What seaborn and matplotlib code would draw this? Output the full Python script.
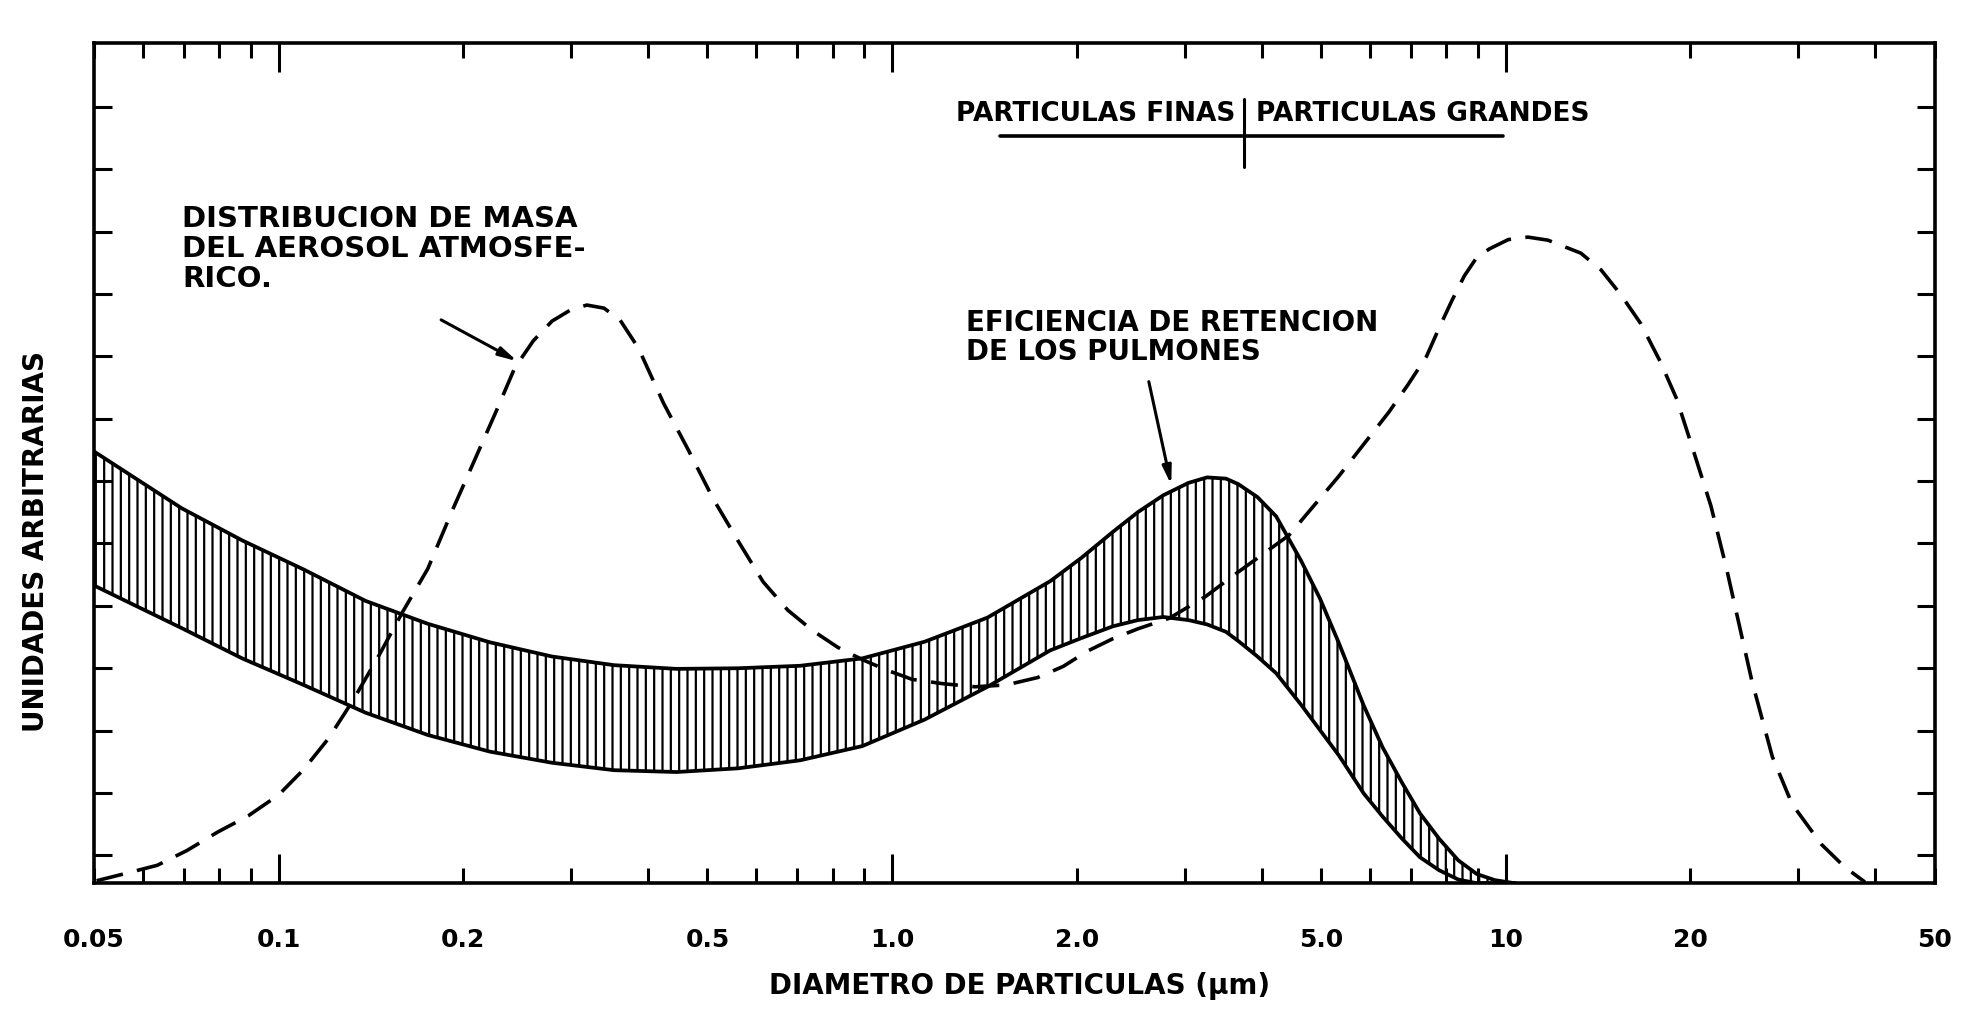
import numpy as np
import matplotlib
matplotlib.use("Agg")
import matplotlib.pyplot as plt
from matplotlib.ticker import NullFormatter
import seaborn as sns

# ---------------- data ----------------
# lung retention efficiency band (diameter in um, arbitrary units)
band_d = [0.05, 0.0695, 0.0872, 0.1098, 0.1386, 0.175, 0.221, 0.279, 0.352, 0.445,
          0.561, 0.708, 0.894, 1.130, 1.430, 1.810, 2.036, 2.291, 2.517, 2.766,
          3.039, 3.26, 3.5, 3.667, 3.94, 4.225, 4.64, 4.98, 5.346, 5.873,
          6.3, 6.765, 7.25, 7.79, 8.37, 8.97, 9.6, 10.35]
band_upper = [6.99, 6.07, 5.55, 5.08, 4.57, 4.20, 3.90, 3.67, 3.53, 3.47,
              3.48, 3.52, 3.64, 3.91, 4.30, 4.89, 5.27, 5.69, 6.01, 6.28,
              6.48, 6.57, 6.55, 6.46, 6.25, 5.94, 5.22, 4.61, 3.89, 2.87,
              2.20, 1.64, 1.13, 0.72, 0.37, 0.15, 0.05, 0.0]
band_lower = [4.82, 4.13, 3.64, 3.21, 2.76, 2.40, 2.13, 1.95, 1.83, 1.80,
              1.86, 1.99, 2.22, 2.65, 3.18, 3.77, 3.97, 4.16, 4.26, 4.31,
              4.26, 4.19, 4.07, 3.92, 3.67, 3.40, 2.89, 2.48, 2.07, 1.45,
              1.08, 0.73, 0.42, 0.21, 0.06, 0.0, 0.0, 0.0]

# atmospheric aerosol mass distribution (dashed)
mass_d = [0.0505, 0.0559, 0.0634, 0.0709, 0.0796, 0.0892, 0.1, 0.1098, 0.1205, 0.132,
          0.1452, 0.159, 0.175, 0.192, 0.211, 0.226, 0.2425, 0.26, 0.279, 0.299,
          0.318, 0.339, 0.360, 0.386, 0.424, 0.4655, 0.511, 0.561, 0.616, 0.676,
          0.742, 0.815, 0.894, 0.98, 1.078, 1.21, 1.364, 1.535, 1.727, 1.9,
          2.084, 2.291, 2.517, 2.83, 3.24, 3.667, 4.43, 5.346, 5.873, 6.454,
          6.93, 7.43, 7.79, 8.17, 8.56, 8.97, 9.41, 10.1, 10.87, 11.72,
          13.26, 14.3, 15.4, 16.6, 17.85, 19.0, 20.2, 21.6, 22.9, 24.0,
          25.2, 27.2, 29.3, 32.7, 35.7, 38.5]
mass_u = [0.04, 0.15, 0.29, 0.53, 0.83, 1.09, 1.43, 1.84, 2.34, 2.95,
          3.66, 4.38, 5.09, 6.04, 6.96, 7.63, 8.34, 8.78, 9.10, 9.28,
          9.36, 9.31, 9.12, 8.66, 7.77, 7.01, 6.22, 5.54, 4.88, 4.42,
          4.09, 3.82, 3.62, 3.45, 3.30, 3.23, 3.18, 3.21, 3.33, 3.51,
          3.76, 3.96, 4.12, 4.29, 4.64, 5.04, 5.63, 6.59, 7.11, 7.63,
          8.07, 8.53, 8.99, 9.43, 9.83, 10.13, 10.27, 10.42, 10.46, 10.41,
          10.20, 9.93, 9.53, 9.06, 8.45, 7.84, 7.02, 6.11, 5.10, 4.20,
          3.27, 2.05, 1.28, 0.63, 0.26, 0.02]

xtick_values = [0.05, 0.1, 0.2, 0.5, 1.0, 2.0, 5.0, 10, 20, 50]
xtick_labels = ["0.05", "0.1", "0.2", "0.5", "1.0", "2.0", "5.0", "10", "20", "50"]
xtick_minor = [0.06, 0.07, 0.08, 0.09, 0.3, 0.4, 0.6, 0.7, 0.8, 0.9,
               3, 4, 6, 7, 8, 9, 30, 40]
long_ticks = [0.1, 1.0, 10]
ytick_values = list(np.arange(0.45, 13.2, 1.01))

label_mass = "DISTRIBUCION DE MASA\nDEL AEROSOL ATMOSFE-\nRICO."
label_lung = "EFICIENCIA DE RETENCION\nDE LOS PULMONES"
label_fine = "PARTICULAS FINAS"
label_coarse = "PARTICULAS GRANDES"
xlabel = "DIAMETRO DE PARTICULAS (µm)"
ylabel = "UNIDADES ARBITRARIAS"

# ---------------- style ----------------
sns.set_theme(style="ticks")
plt.rcParams["font.family"] = ["DejaVu Sans"]
plt.rcParams["hatch.linewidth"] = 1.6
plt.rcParams["hatch.color"] = "black"
plt.rcParams["text.color"] = "black"
plt.rcParams["axes.labelcolor"] = "black"
plt.rcParams["xtick.color"] = "black"
plt.rcParams["ytick.color"] = "black"

fig = plt.figure(figsize=(19.74, 10.27), dpi=100)
ax = fig.add_axes([0.0476, 0.140, 0.9324, 0.818])
ax.set_facecolor("white")
ax.set_xscale("log")

# hatched band
ax.fill_between(band_d, band_lower, band_upper, facecolor="none",
                edgecolor="black", hatch="||", linewidth=0)
sns.lineplot(x=band_d, y=band_upper, ax=ax, color="black", linewidth=2.7,
             sort=False, estimator=None)
sns.lineplot(x=band_d, y=band_lower, ax=ax, color="black", linewidth=2.7,
             sort=False, estimator=None)

# dashed mass distribution
sns.lineplot(x=mass_d, y=mass_u, ax=ax, color="black", linewidth=2.6,
             linestyle=(0, (7.5, 4)), sort=False, estimator=None)

ax.set_xlim(0.05, 50)
ax.set_ylim(0, 13.6)

# ticks
ax.set_xticks(xtick_values)
ax.set_xticklabels(xtick_labels, fontsize=18, fontweight="bold")
ax.set_xticks(xtick_minor, minor=True)
ax.xaxis.set_minor_formatter(NullFormatter())
ax.tick_params(axis="x", which="both", direction="in", top=True, bottom=True,
               length=11, width=2.2, pad=32, colors="black")
ax.set_yticks(ytick_values)
ax.tick_params(axis="y", which="both", direction="in", left=True, right=True,
               labelleft=False, length=13, width=2.2, colors="black")
for spine in ax.spines.values():
    spine.set_visible(True)
    spine.set_linewidth(2.6)
    spine.set_color("black")

# axis labels
ax.set_xlabel(xlabel, fontsize=20, fontweight="bold")
ax.xaxis.set_label_coords(0.503, -0.106)
ax.set_ylabel(ylabel, fontsize=20, fontweight="bold")
ax.yaxis.set_label_coords(-0.024, 0.407)

# annotations
ax.text(0.0697, 10.98, label_mass, fontsize=21, fontweight="bold", va="top",
        ha="left", linespacing=1.1)
ax.annotate("", xy=(0.245, 8.45), xytext=(0.184, 9.12),
            arrowprops=dict(arrowstyle="-|>,head_length=0.9,head_width=0.22",
                            color="black", lw=2.2, shrinkA=0, shrinkB=0))
ax.text(1.32, 9.30, label_lung, fontsize=20, fontweight="bold", va="top",
        ha="left", linespacing=1.05)
ax.annotate("", xy=(2.85, 6.45), xytext=(2.62, 8.12),
            arrowprops=dict(arrowstyle="-|>,head_length=0.9,head_width=0.22",
                            color="black", lw=2.2, shrinkA=0, shrinkB=0))

# fine / coarse header
sep_d = 3.75
ax.text(3.62, 12.46, label_fine, fontsize=19, fontweight="bold", ha="right", va="center")
ax.text(3.92, 12.46, label_coarse, fontsize=19, fontweight="bold", ha="left", va="center")
ax.plot([sep_d, sep_d], [11.6, 12.7], color="black", lw=2.2)
ax.plot([1.5, 9.9], [12.09, 12.09], color="black", lw=2.6)

# longer ticks at decades
for t, v in zip(ax.xaxis.get_major_ticks(), xtick_values):
    if v in long_ticks:
        t.tick1line.set_markersize(21)
        t.tick2line.set_markersize(21)

fig.savefig("out.png", dpi=100, facecolor="white")
